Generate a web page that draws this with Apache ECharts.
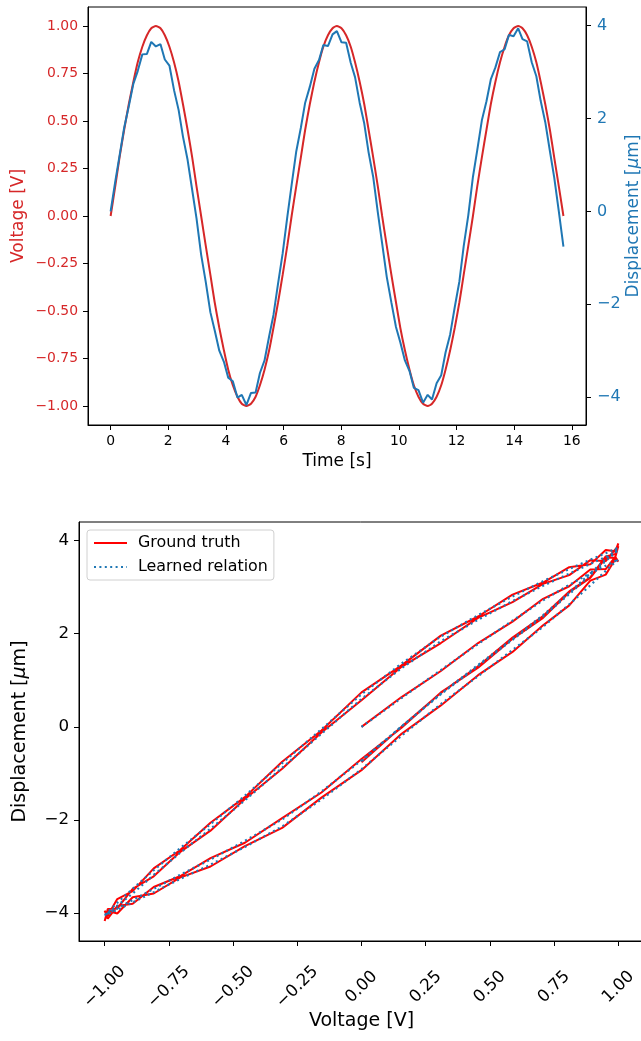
<!DOCTYPE html>
<html><head><meta charset="utf-8">
<script src="https://cdn.jsdelivr.net/npm/echarts@6/dist/echarts.min.js"></script>
<style>html,body{margin:0;padding:0;background:#fff}#c{width:641px;height:1041px}</style>
</head><body><div id="c"></div>
<script>
const time = [0, 0.16, 0.31, 0.47, 0.63, 0.79, 0.94, 1.10, 1.26, 1.41,
  1.57, 1.73, 1.88, 2.04, 2.20, 2.36, 2.51, 2.67, 2.83, 2.98,
  3.14, 3.30, 3.46, 3.61, 3.77, 3.93, 4.08, 4.24, 4.40, 4.55,
  4.71, 4.87, 5.03, 5.18, 5.34, 5.50, 5.65, 5.81, 5.97, 6.13,
  6.28, 6.44, 6.60, 6.75, 6.91, 7.07, 7.23, 7.38, 7.54, 7.70,
  7.85, 8.01, 8.17, 8.33, 8.48, 8.64, 8.80, 8.95, 9.11, 9.27,
  9.42, 9.58, 9.74, 9.90, 10.05, 10.21, 10.37, 10.52, 10.68, 10.84,
  11.00, 11.15, 11.31, 11.47, 11.62, 11.78, 11.94, 12.10, 12.25, 12.41,
  12.57, 12.72, 12.88, 13.04, 13.19, 13.35, 13.51, 13.67, 13.82, 13.98,
  14.14, 14.29, 14.45, 14.61, 14.77, 14.92, 15.08, 15.24, 15.39, 15.55,
  15.71];
const voltage = [0, 0.156, 0.309, 0.454, 0.588, 0.707, 0.809, 0.891, 0.951, 0.988,
  1, 0.988, 0.951, 0.891, 0.809, 0.707, 0.588, 0.454, 0.309, 0.156,
  0, -0.156, -0.309, -0.454, -0.588, -0.707, -0.809, -0.891, -0.951, -0.988,
  -1, -0.988, -0.951, -0.891, -0.809, -0.707, -0.588, -0.454, -0.309, -0.156,
  0, 0.156, 0.309, 0.454, 0.588, 0.707, 0.809, 0.891, 0.951, 0.988,
  1, 0.988, 0.951, 0.891, 0.809, 0.707, 0.588, 0.454, 0.309, 0.156,
  0, -0.156, -0.309, -0.454, -0.588, -0.707, -0.809, -0.891, -0.951, -0.988,
  -1, -0.988, -0.951, -0.891, -0.809, -0.707, -0.588, -0.454, -0.309, -0.156,
  0, 0.156, 0.309, 0.454, 0.588, 0.707, 0.809, 0.891, 0.951, 0.988,
  1, 0.988, 0.951, 0.891, 0.809, 0.707, 0.588, 0.454, 0.309, 0.156,
  0];
const dispMeasured = [0.00, 0.64, 1.20, 1.80, 2.26, 2.75, 3.02, 3.38, 3.39, 3.65,
  3.55, 3.60, 3.27, 3.14, 2.61, 2.18, 1.61, 1.11, 0.46, -0.15,
  -0.93, -1.52, -2.17, -2.56, -3.00, -3.24, -3.58, -3.66, -4.01, -3.95,
  -4.17, -3.91, -3.90, -3.48, -3.21, -2.69, -2.23, -1.55, -0.90, -0.12,
  0.57, 1.29, 1.80, 2.34, 2.68, 3.07, 3.26, 3.58, 3.56, 3.81,
  3.88, 3.64, 3.63, 3.20, 2.89, 2.34, 1.89, 1.27, 0.74, -0.02,
  -0.69, -1.41, -1.96, -2.49, -2.82, -3.21, -3.44, -3.80, -3.85, -4.12,
  -3.95, -4.05, -3.70, -3.53, -3.04, -2.65, -2.06, -1.51, -0.75, -0.08,
  0.74, 1.32, 1.96, 2.37, 2.84, 3.10, 3.43, 3.49, 3.80, 3.77,
  3.94, 3.71, 3.66, 3.21, 2.91, 2.38, 1.92, 1.30, 0.73, 0.00,
  -0.76];
const dispLearned = [0.00, 0.62, 1.22, 1.78, 2.28, 2.72, 3.05, 3.30, 3.46, 3.56,
  3.60, 3.54, 3.35, 3.04, 2.63, 2.15, 1.65, 1.09, 0.49, -0.19,
  -0.91, -1.56, -2.14, -2.58, -2.96, -3.27, -3.55, -3.77, -3.93, -4.02,
  -4.05, -4.00, -3.84, -3.58, -3.18, -2.71, -2.19, -1.58, -0.88, -0.15,
  0.60, 1.26, 1.84, 2.30, 2.70, 3.03, 3.29, 3.50, 3.65, 3.75,
  3.80, 3.74, 3.56, 3.26, 2.85, 2.37, 1.87, 1.31, 0.70, 0.01,
  -0.72, -1.39, -1.99, -2.45, -2.85, -3.18, -3.48, -3.72, -3.90, -4.01,
  -4.05, -3.98, -3.78, -3.48, -3.08, -2.61, -2.09, -1.48, -0.78, -0.05,
  0.70, 1.36, 1.94, 2.40, 2.80, 3.13, 3.39, 3.59, 3.73, 3.82,
  3.85, 3.79, 3.60, 3.30, 2.88, 2.40, 1.89, 1.33, 0.71, 0.01,
  -0.74];
const timeTicks = [0, 2, 4, 6, 8, 10, 12, 14, 16];
const voltTicks = [-1, -0.75, -0.5, -0.25, 0, 0.25, 0.5, 0.75, 1];
const dispTicks = [-4, -2, 0, 2, 4];

const FONT = 'DejaVu Sans';
const RED = '#d62728', BLUE = '#1f77b4';
const fmt2 = v => (v < 0 ? '\u2212' : '') + Math.abs(v).toFixed(2);
const fmt0 = v => (v < 0 ? '\u2212' : '') + Math.abs(v);
const zip = (a, b) => a.map((x, i) => [x, b[i]]);
const tick = (vals) => ({show: true, inside: false, length: 5, customValues: vals, lineStyle: {color: '#000', width: 1}});
const line = {show: true, onZero: false, lineStyle: {color: '#000', width: 1}};

const chart = echarts.init(document.getElementById('c'), null, {renderer: 'canvas'});
chart.setOption({
  animation: false,
  backgroundColor: '#fff',
  textStyle: {fontFamily: FONT},
  grid: [
    {left: 88, right: 55, top: 7, bottom: 616, show: true, borderColor: '#000', borderWidth: 1,
      containLabel: false, outerBoundsMode: 'none'},
    {left: 79, right: -3, top: 522, bottom: 100, show: true, borderColor: '#000', borderWidth: 1,
      containLabel: false, outerBoundsMode: 'none'}
  ],
  legend: {
    data: ['Ground truth', 'Learned relation'],
    orient: 'vertical', left: 87, top: 530,
    padding: [5, 6, 5, 6], itemGap: 8, itemWidth: 33, itemHeight: 15,
    backgroundColor: '#fff', borderColor: '#d0d0d0', borderWidth: 1, borderRadius: 3,
    itemStyle: {opacity: 0},
    textStyle: {fontSize: 15.9, color: '#000', fontFamily: FONT, padding: [0, 0, 0, 6]}
  },
  xAxis: [
    {type: 'value', gridIndex: 0, min: -0.785, max: 16.493,
      name: 'Time [s]', nameLocation: 'middle', nameGap: 28, nameMoveOverlap: false,
      nameTextStyle: {fontSize: 17, color: '#000', fontFamily: FONT},
      axisLine: line, axisTick: tick(timeTicks),
      axisLabel: {customValues: timeTicks, color: '#000', fontSize: 13.9, fontFamily: FONT, margin: 9, formatter: fmt0},
      splitLine: {show: false}},
    {type: 'value', gridIndex: 1, min: -1.1, max: 1.1,
      name: 'Voltage [V]', nameLocation: 'middle', nameGap: 71, nameMoveOverlap: false,
      nameTextStyle: {fontSize: 19, color: '#000', fontFamily: FONT},
      axisLine: line, axisTick: tick(voltTicks),
      axisLabel: {customValues: voltTicks, color: '#000', fontSize: 16.7, fontFamily: FONT,
        rotate: 45, align: 'center', verticalAlign: 'middle', margin: 46, formatter: fmt2},
      splitLine: {show: false}}
  ],
  yAxis: [
    {type: 'value', gridIndex: 0, position: 'left', min: -1.1, max: 1.1,
      name: 'Voltage [V]', nameLocation: 'middle', nameRotate: 90, nameGap: 61, nameMoveOverlap: false,
      nameTextStyle: {fontSize: 17, color: RED, fontFamily: FONT},
      axisLine: line, axisTick: tick(voltTicks),
      axisLabel: {customValues: voltTicks, color: RED, fontSize: 13.9, fontFamily: FONT, margin: 10, formatter: fmt2},
      splitLine: {show: false}},
    {type: 'value', gridIndex: 0, position: 'right', min: -4.6, max: 4.4,
      name: 'Displacement [{it|\u03bc}m]', nameLocation: 'middle', nameRotate: 90, nameGap: 39, nameMoveOverlap: false,
      nameTextStyle: {fontSize: 17, color: BLUE, fontFamily: FONT,
        rich: {it: {fontStyle: 'italic', fontSize: 17, color: BLUE, fontFamily: FONT}}},
      axisLine: line, axisTick: tick(dispTicks),
      axisLabel: {customValues: dispTicks, color: BLUE, fontSize: 16, fontFamily: FONT, margin: 11, formatter: fmt0},
      splitLine: {show: false}},
    {type: 'value', gridIndex: 1, position: 'left', min: -4.6, max: 4.4,
      name: 'Displacement [{it|\u03bc}m]', nameLocation: 'middle', nameRotate: 90, nameGap: 49, nameMoveOverlap: false,
      nameTextStyle: {fontSize: 19, color: '#000', fontFamily: FONT,
        rich: {it: {fontStyle: 'italic', fontSize: 19, color: '#000', fontFamily: FONT}}},
      axisLine: line, axisTick: tick(dispTicks),
      axisLabel: {customValues: dispTicks, color: '#000', fontSize: 16.7, fontFamily: FONT, margin: 10, formatter: fmt0},
      splitLine: {show: false}}
  ],
  series: [
    {name: 'Voltage', type: 'line', xAxisIndex: 0, yAxisIndex: 0, data: zip(time, voltage),
      symbol: 'none', smooth: 0.2, lineStyle: {color: RED, width: 2}, itemStyle: {color: RED}, z: 2},
    {name: 'Displacement', type: 'line', xAxisIndex: 0, yAxisIndex: 1, data: zip(time, dispMeasured),
      symbol: 'none', lineStyle: {color: BLUE, width: 2}, itemStyle: {color: BLUE}, z: 3},
    {name: 'Ground truth', type: 'line', xAxisIndex: 1, yAxisIndex: 2, data: zip(voltage, dispMeasured),
      symbol: 'none', lineStyle: {color: '#ff0000', width: 2}, itemStyle: {color: '#ff0000'}, z: 2},
    {name: 'Learned relation', type: 'line', xAxisIndex: 1, yAxisIndex: 2, data: zip(voltage, dispLearned),
      symbol: 'none', lineStyle: {color: BLUE, width: 2.2, type: [2, 3.4], cap: 'butt'}, itemStyle: {color: BLUE}, z: 3}
  ]
});
</script></body></html>
